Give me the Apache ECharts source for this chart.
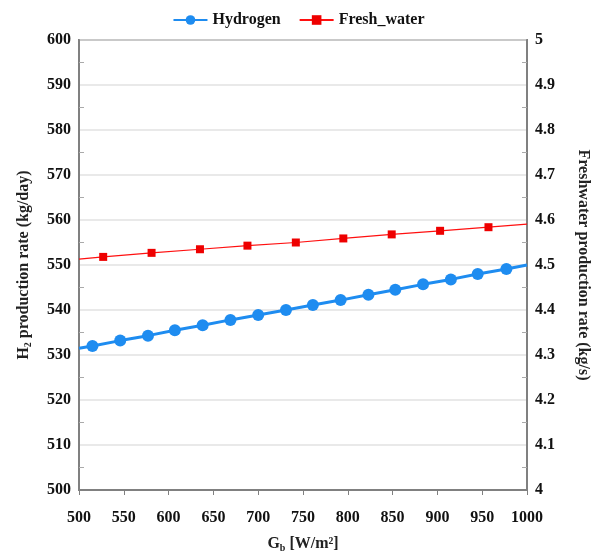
<!DOCTYPE html>
<html>
<head>
<meta charset="utf-8">
<script src="https://cdn.jsdelivr.net/npm/echarts@6/dist/echarts.min.js"></script>
<style>
  html, body { margin: 0; padding: 0; background: #fff; }
  #chart { width: 597px; height: 553px; }
</style>
</head>
<body>
<div id="chart"></div>
<script>
// values (first and last points are line ends without marker)
const hydrogenX = [500, 515, 546, 577, 607, 638, 669, 700, 731, 761, 792, 823, 853, 884, 915, 945, 977, 1000];
const hydrogenY = [531.5, 532.0, 533.2, 534.3, 535.5, 536.6, 537.8, 538.9, 540.0, 541.1, 542.2, 543.4, 544.5, 545.7, 546.8, 548.0, 549.1, 550.0];
const freshX = [500, 527, 581, 635, 688, 742, 795, 849, 903, 957, 1000];
const freshY = [4.513, 4.518, 4.527, 4.535, 4.543, 4.550, 4.559, 4.568, 4.576, 4.584, 4.591];

const font = '"Liberation Serif", "Times New Roman", serif';
const axisGray = '#808080';

function toData(xs, ys) {
  return xs.map((x, i) => {
    const item = { value: [x, ys[i]] };
    if (i === 0 || i === xs.length - 1) item.symbol = 'none';
    return item;
  });
}

const subStyle = { fontFamily: font, fontWeight: 'bold', fontSize: 10, color: '#222', verticalAlign: 'bottom', padding: [9, 0, 0, 0] };

const chart = echarts.init(document.getElementById('chart'));

chart.setOption({
  animation: false,
  textStyle: { fontFamily: font },
  legend: {
    top: 7,
    left: 'center',
    itemWidth: 34,
    itemHeight: 12,
    itemGap: 18,
    textStyle: { fontFamily: font, fontWeight: 'bold', fontSize: 16, color: '#111' },
    data: ['Hydrogen', 'Fresh_water']
  },
  grid: {
    left: 79, right: 70, top: 40, bottom: 63,
    outerBoundsMode: 'none',
    containLabel: false,
    show: true,
    borderColor: axisGray,
    borderWidth: 2
  },
  xAxis: {
    type: 'value',
    min: 500, max: 1000, interval: 50,
    name: 'G{sub|b} [W/m²]',
    nameLocation: 'middle',
    nameGap: 44,
    nameTextStyle: {
      fontFamily: font, fontWeight: 'bold', fontSize: 16, color: '#222',
      rich: { sub: subStyle }
    },
    axisLine: { lineStyle: { color: axisGray, width: 2 } },
    axisTick: { show: true, length: 5, lineStyle: { color: axisGray } },
    axisLabel: { fontFamily: font, fontWeight: 'bold', fontSize: 16, color: '#111', margin: 20, formatter: v => String(v) },
    splitLine: { show: false }
  },
  yAxis: [
    {
      type: 'value',
      min: 500, max: 600, interval: 10,
      name: 'H{sub|2} production rate (kg/day)',
      nameLocation: 'middle',
      nameGap: 46,
      nameTextStyle: {
        fontFamily: font, fontWeight: 'bold', fontSize: 16, color: '#222',
        rich: { sub: subStyle }
      },
      axisLine: { show: true, lineStyle: { color: axisGray, width: 2 } },
      axisTick: { show: false },
      minorTick: { show: true, splitNumber: 2, length: -5, lineStyle: { color: '#aaa' } },
      axisLabel: { fontFamily: font, fontWeight: 'bold', fontSize: 16, color: '#111', margin: 8 },
      splitLine: { show: true, lineStyle: { color: '#e2e2e2', width: 1.5 } }
    },
    {
      type: 'value',
      min: 4, max: 5, interval: 0.1,
      position: 'right',
      name: 'Freshwater production rate (kg/s)',
      nameLocation: 'middle',
      nameRotate: -90,
      nameGap: 48,
      nameTextStyle: { fontFamily: font, fontWeight: 'bold', fontSize: 16, color: '#222' },
      axisLine: { show: true, lineStyle: { color: axisGray, width: 2 } },
      axisTick: { show: false },
      minorTick: { show: true, splitNumber: 2, length: -5, lineStyle: { color: '#aaa' } },
      axisLabel: {
        fontFamily: font, fontWeight: 'bold', fontSize: 16, color: '#111', margin: 8,
        formatter: v => String(Math.round(v * 10) / 10)
      },
      splitLine: { show: false }
    }
  ],
  series: [
    {
      name: 'Hydrogen',
      type: 'line',
      yAxisIndex: 0,
      data: toData(hydrogenX, hydrogenY),
      symbol: 'circle',
      symbolSize: 12,
      lineStyle: { color: '#1e8cf0', width: 3 },
      itemStyle: { color: '#1e8cf0' },
      z: 3
    },
    {
      name: 'Fresh_water',
      type: 'line',
      yAxisIndex: 1,
      data: toData(freshX, freshY),
      symbol: 'rect',
      symbolSize: 8,
      lineStyle: { color: '#ff1010', width: 1.2 },
      itemStyle: { color: '#ee0000' },
      z: 2
    }
  ]
});
</script>
</body>
</html>
